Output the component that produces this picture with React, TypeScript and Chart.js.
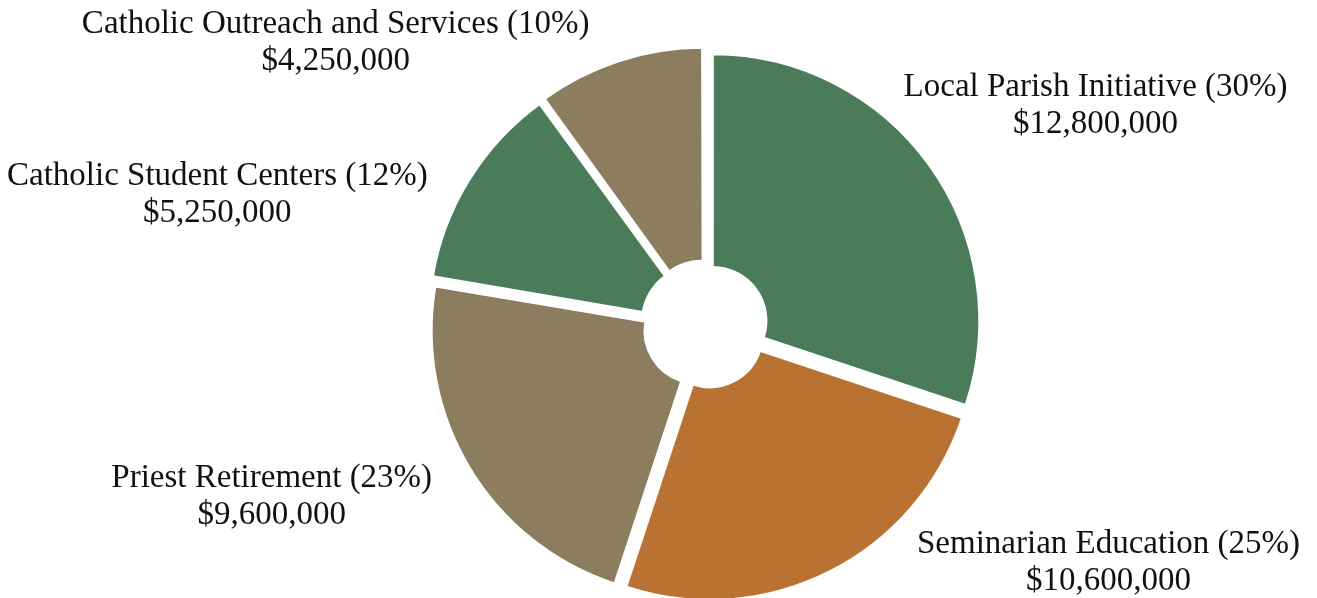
import React, { useEffect, useRef } from "react";
import { Chart, registerables } from "chart.js";

Chart.register(...registerables);

// ---- data ----
const categories = [
  "Local Parish Initiative",
  "Seminarian Education",
  "Priest Retirement",
  "Catholic Student Centers",
  "Catholic Outreach and Services",
];
const amounts = [12800000, 10600000, 9600000, 5250000, 4250000];
const sliceColors = ["#4a7c59", "#ba7233", "#8b7d5e", "#4a7c59", "#8b7d5e"];

// ---- layout / style constants ----
const EXPLODE = 36; // chart.js arc offset (drawn as offset/4 px)
const LABEL_GAP = 30;
const LINE_H = 37;
const LABEL_NUDGE: [number, number][] = [
  [-55, -69],
  [58, -19],
  [-8, 19],
  [-14, 4],
  [-1, -31],
];

function money(v: number): string {
  const s = String(Math.round(v));
  return "$" + s.replace(/\B(?=(\d{3})+(?!\d))/g, ",");
}

const total = amounts.reduce((a, b) => a + b, 0);

const labelPlugin = {
  id: "outsideLabels",
  afterDatasetsDraw(chart: any) {
    const ctx: CanvasRenderingContext2D = chart.ctx;
    const meta = chart.getDatasetMeta(0);
    ctx.save();
    ctx.font = '33px "Liberation Serif"';
    ctx.fillStyle = "#111111";
    ctx.textAlign = "center";
    ctx.textBaseline = "alphabetic";
    meta.data.forEach((arc: any, i: number) => {
      const { x, y, startAngle, endAngle, outerRadius } = arc.getProps(
        ["x", "y", "startAngle", "endAngle", "outerRadius"],
        true
      );
      const mid = (startAngle + endAngle) / 2;
      const r = outerRadius + EXPLODE / 4;
      const px = x + Math.cos(mid) * r;
      const py = y + Math.sin(mid) * r;
      const pct = Math.round((amounts[i] / total) * 100);
      const l1 = `${categories[i]} (${pct}%)`;
      const l2 = money(amounts[i]);
      const w = Math.max(ctx.measureText(l1).width, ctx.measureText(l2).width);
      const right = Math.cos(mid) >= 0;
      const cx =
        (right ? px + LABEL_GAP + w / 2 : px - LABEL_GAP - w / 2) +
        LABEL_NUDGE[i][0];
      const b1 = py + LABEL_NUDGE[i][1];
      ctx.fillText(l1, cx, b1);
      ctx.fillText(l2, cx, b1 + LINE_H);
    });
    ctx.restore();
  },
};

export default function App() {
  const canvasRef = useRef<HTMLCanvasElement | null>(null);

  useEffect(() => {
    if (!canvasRef.current) return;
    const chart = new Chart(canvasRef.current, {
      type: "doughnut",
      data: {
        labels: categories,
        datasets: [
          {
            data: amounts,
            backgroundColor: sliceColors,
            borderColor: "#ffffff",
            borderWidth: 2,
            offset: EXPLODE,
            hoverOffset: EXPLODE,
            radius: 266,
          },
        ],
      },
      options: {
        animation: false,
        responsive: true,
        maintainAspectRatio: false,
        events: [],
        cutout: "20%",
        layout: {
          padding: { left: 433.5, right: 339.5, top: 54, bottom: 0 },
        },
        plugins: {
          legend: { display: false },
          tooltip: { enabled: false },
        },
      },
      plugins: [labelPlugin],
    });
    return () => chart.destroy();
  }, []);

  return (
    <div
      style={{
        position: "fixed",
        left: 0,
        top: 0,
        width: 1317,
        height: 598,
        background: "#ffffff",
      }}
    >
      <canvas ref={canvasRef} />
    </div>
  );
}
